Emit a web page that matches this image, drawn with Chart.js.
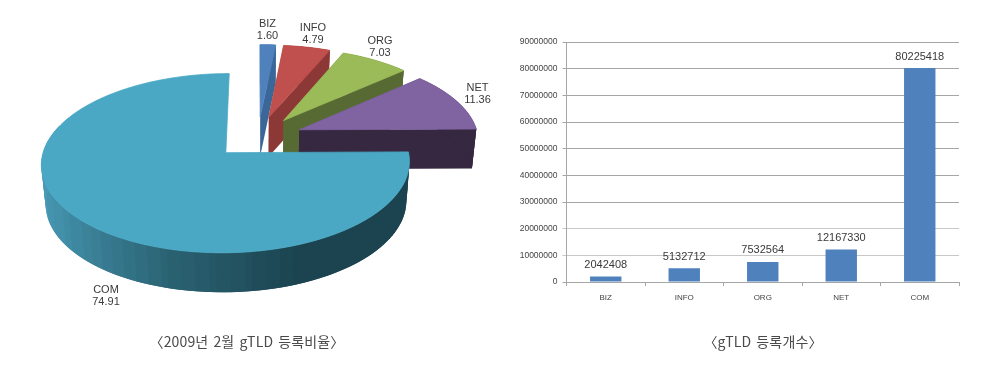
<!DOCTYPE html>
<html lang="ko">
<head>
<meta charset="utf-8">
<style>
html,body{margin:0;padding:0;background:#fff;width:990px;height:372px;overflow:hidden}
canvas{position:absolute;top:0;left:0}
.cap{position:absolute;top:331px;height:20px;font:14px/20px "Noto Sans CJK KR","Liberation Sans",sans-serif;letter-spacing:0.15px;word-spacing:1px;color:#4a4a4a;text-align:center;white-space:nowrap}
</style>
<script src="https://cdn.jsdelivr.net/npm/chart.js@4/dist/chart.umd.js"></script>
</head>
<body>
<div style="position:absolute;left:0;top:0;width:516px;height:372px"><canvas id="pie"></canvas></div>
<div style="position:absolute;left:500px;top:0;width:480px;height:372px"><canvas id="bar"></canvas></div>
<div class="cap" style="left:97px;width:300px">〈2009년 2월 gTLD 등록비율〉</div>
<div class="cap" style="left:613px;width:300px">〈gTLD 등록개수〉</div>
<script>
const categories = ["BIZ", "INFO", "ORG", "NET", "COM"];
const shareValues = [1.60, 4.79, 7.03, 11.36, 74.91];
const countValues = [2042408, 5132712, 7532564, 12167330, 80225418];
const yTicks = [0, 10000000, 20000000, 30000000, 40000000, 50000000, 60000000, 70000000, 80000000, 90000000];
const topColors = ["#4f81bd", "#c0504d", "#9bbb59", "#8064a2", "#4aa8c4"];
const sideColors = ["#3a6698", "#8c3836", "#586a33", "#352840", "#1c4450"];
const labelAnchors = [[267.5, 23.5], [313, 27.5], [380, 40.5], [477.5, 88], [106, 290]];

const view = {rx: 179, ry: 84.8, persp: 0.115, depth: 39.5, taper: 0.98, explode: 0.25};

function lerpColor(a, b, t) {
  const p = h => [1, 3, 5].map(i => parseInt(h.substr(i, 2), 16));
  const A = p(a), B = p(b);
  return "rgb(" + A.map((c, i) => Math.round(c + (B[i] - c) * t)).join(",") + ")";
}

const tiltedPie = {
  id: "tiltedPie",
  beforeDatasetDraw(chart) {
    const ctx = chart.ctx;
    const arcs = chart.getDatasetMeta(0).data;
    const last = categories.length - 1;
    arcs.forEach((el, i) => {
      const mid = (el.startAngle + el.endAngle) / 2;
      const ox = Math.cos(mid) * view.explode, oy = Math.sin(mid) * view.explode;
      const top = (u, v) => {
        const w = 1 - view.persp * v;
        return [el.x + view.rx * u / w, el.y + view.ry * v / w];
      };
      const low = p => [el.x + (p[0] - el.x) * view.taper, p[1] + view.depth];
      const rim = a => top(ox + Math.cos(a), oy + Math.sin(a));
      const apex = top(ox, oy);
      const quad = (a, b, fill) => {
        const c = low(b), d = low(a);
        ctx.beginPath();
        ctx.moveTo(a[0], a[1]); ctx.lineTo(b[0], b[1]); ctx.lineTo(c[0], c[1]); ctx.lineTo(d[0], d[1]);
        ctx.closePath();
        ctx.fillStyle = fill;
        ctx.fill();
      };
      if (i !== last) {
        quad(apex, rim(el.startAngle), sideColors[i]);
        quad(apex, rim(el.endAngle), sideColors[i]);
      }
      const step = Math.PI / 90;
      const rimEnd = i === last ? Math.min(el.endAngle, Math.PI * 1.1) : el.endAngle;
      for (let a = el.startAngle; a < rimEnd; a += step) {
        const b = Math.min(a + 2 * step, rimEnd);
        const s = 0.5 - 0.5 * Math.cos(Math.min(Math.max(a, 0), Math.PI));
        let fill = sideColors[i];
        if (i === last) {
          const banded = Math.floor(s * 34) / 34;
          fill = banded < 0.3 ? "#1c4450"
            : banded < 0.6 ? lerpColor("#1c4450", "#2a6272", (banded - 0.3) / 0.3)
            : lerpColor("#2a6272", "#4a9dba", (banded - 0.6) / 0.4);
        }
        quad(rim(a), rim(b), fill);
      }
      ctx.beginPath();
      ctx.moveTo(apex[0], apex[1]);
      const n = Math.max(8, Math.ceil((el.endAngle - el.startAngle) / 0.02));
      for (let k = 0; k <= n; k++) {
        const p = rim(el.startAngle + (el.endAngle - el.startAngle) * k / n);
        ctx.lineTo(p[0], p[1]);
      }
      ctx.closePath();
      ctx.fillStyle = topColors[i];
      ctx.strokeStyle = topColors[i];
      ctx.lineWidth = 0.8;
      ctx.fill();
      ctx.stroke();
    });
    return false;
  },
  afterDraw(chart) {
    const ctx = chart.ctx;
    ctx.save();
    ctx.font = '11px "Liberation Sans", sans-serif';
    ctx.fillStyle = "#3a3a3a";
    ctx.textAlign = "center";
    ctx.textBaseline = "middle";
    categories.forEach((name, i) => {
      const [x, y] = labelAnchors[i];
      ctx.fillText(name, x, y);
      ctx.fillText(shareValues[i].toFixed(2), x, y + 12);
    });
    ctx.restore();
  }
};

const barValueLabels = {
  id: "barValueLabels",
  afterDatasetsDraw(chart) {
    const ctx = chart.ctx;
    ctx.save();
    ctx.font = '11px "Liberation Sans", sans-serif';
    ctx.fillStyle = "#3a3a3a";
    ctx.textAlign = "center";
    ctx.textBaseline = "middle";
    chart.getDatasetMeta(0).data.forEach((el, i) => {
      ctx.fillText(String(countValues[i]), el.x, el.y - 11.5);
    });
    ctx.restore();
  }
};

new Chart(document.getElementById("pie"), {
  type: "pie",
  data: {labels: categories, datasets: [{data: shareValues, backgroundColor: topColors, borderWidth: 0}]},
  options: {
    responsive: true, maintainAspectRatio: false, animation: false,
    layout: {padding: {bottom: 97.4}},
    plugins: {legend: {display: false}, tooltip: {enabled: false}}
  },
  plugins: [tiltedPie]
});

new Chart(document.getElementById("bar"), {
  type: "bar",
  data: {labels: categories, datasets: [{data: countValues, backgroundColor: "#4f81bd", borderWidth: 0, barPercentage: 1, categoryPercentage: 0.4}]},
  options: {
    responsive: true, maintainAspectRatio: false, animation: false,
    layout: {padding: {top: 42, right: 21, left: 0, bottom: 0}},
    plugins: {legend: {display: false}, tooltip: {enabled: false}},
    scales: {
      x: {
        afterFit(s) { s.height = 90; },
        border: {color: "#a6a6a6"},
        grid: {drawOnChartArea: false, tickLength: 4, color: "#a6a6a6"},
        ticks: {color: "#444", padding: 7, font: {size: 8, family: '"Liberation Sans", sans-serif'}, maxRotation: 0}
      },
      y: {
        min: 0, max: 90000000,
        afterFit(s) { s.width = 66.5; },
        afterBuildTicks(s) { s.ticks = yTicks.map(v => ({value: v})); },
        border: {color: "#a6a6a6"},
        grid: {tickLength: 4, color: c => c.tick.value > 0 && c.tick.value <= 20000000 ? "#c8c8c8" : "#a6a6a6"},
        ticks: {color: "#444", padding: 5, font: {size: 8.5, family: '"Liberation Sans", sans-serif'}, callback: v => String(v)}
      }
    }
  },
  plugins: [barValueLabels]
});
</script>
</body>
</html>
